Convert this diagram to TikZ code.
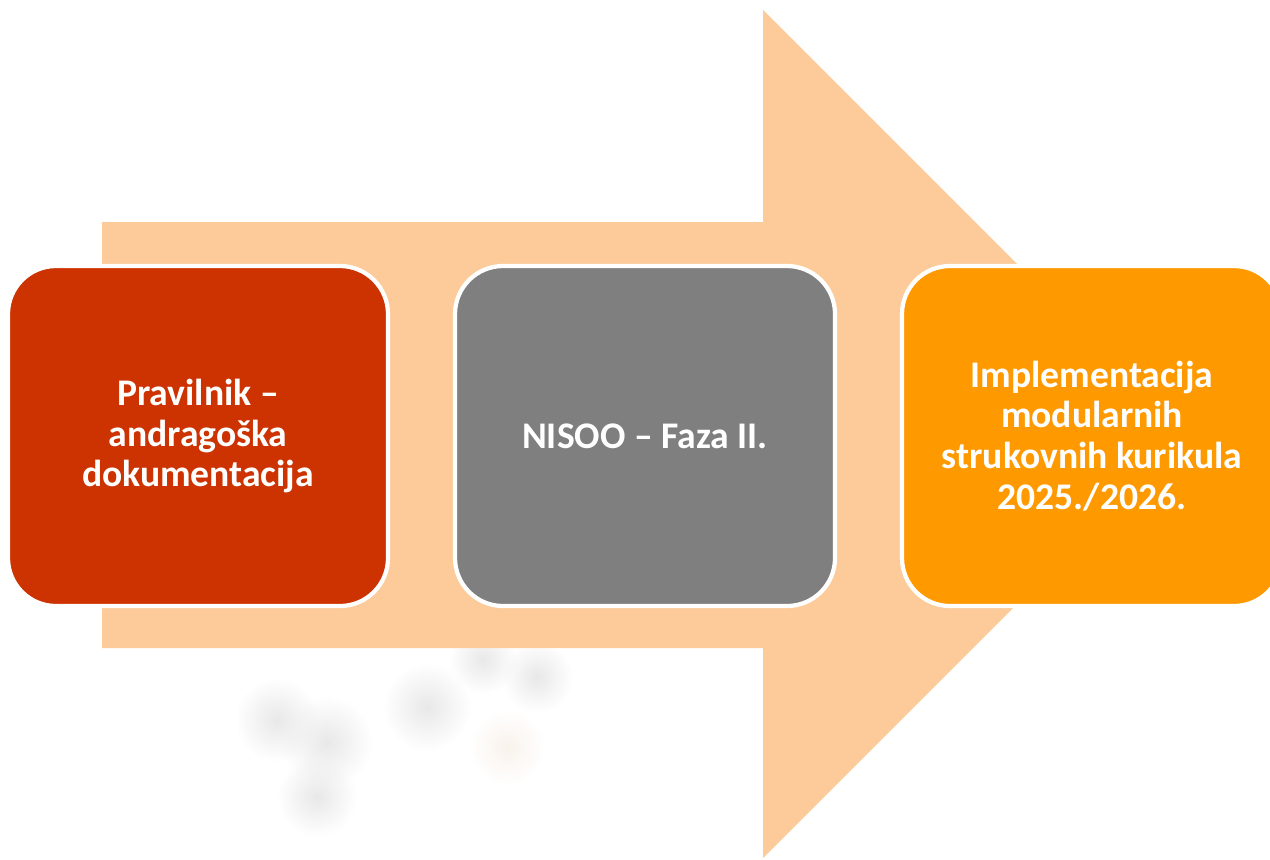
\documentclass[tikz,border=0pt]{standalone}
\usepackage{fontspec}
\setmainfont{Carlito}
\usepackage{tikz}
\usetikzlibrary{fadings}

\definecolor{arrowpeach}{HTML}{FDCB9A}
\definecolor{rulered}{HTML}{CC3300}
\definecolor{phasegrey}{HTML}{7F7F7F}
\definecolor{implorange}{HTML}{FF9900}

\tikzfading[name=softblob,inner color=transparent!0,outer color=transparent!100]

\tikzset{
	stepbox/.style={draw=white,line width=1.2pt,rounded corners=4.8mm,
		minimum width=38mm,minimum height=34mm,align=center,text=white,
		font=\fontsize{10.7}{11.6}\selectfont\bfseries},
	blob/.style={fill=gray!18,path fading=softblob,draw=none}
}

\begin{document}
\begin{tikzpicture}[x=0.1mm,y=-0.1mm]
	\useasboundingbox (0,0) rectangle (1270,859);
	% faded picture under the arrow
	\foreach \bx/\by/\br in {277/720/42,327/742/46,317/797/40,427/707/44,483/660/34,537/677/36}
		\fill[blob] (\bx,\by) circle (\br);
	\fill[blob,fill=brown!10] (507,747) circle (38);
	% big arrow behind the steps
	\fill[arrowpeach] (102,222) -- (763,222) -- (763,10) -- (1187,434)
		-- (763,858) -- (763,648) -- (102,648) -- cycle;
	% steps
	\node[stepbox,fill=rulered] (pravilnik) at (198,436)
		{Pravilnik --\\andragoška\\dokumentacija};
	\node[stepbox,fill=phasegrey] (nisoo) at (645,436) {NISOO -- Faza II.};
	\node[stepbox,fill=implorange] (implementacija) at (1092,436)
		{Implementacija\\modularnih\\strukovnih kurikula\\2025./2026.};
\end{tikzpicture}
\end{document}
